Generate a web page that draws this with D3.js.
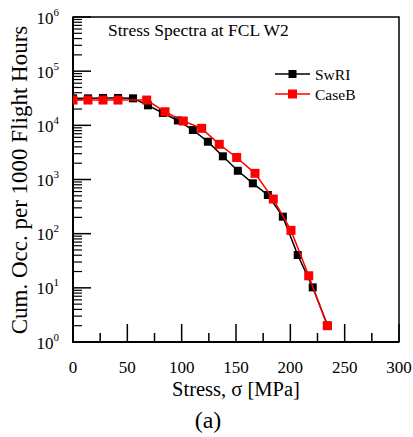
<!DOCTYPE html>
<html>
<head>
<meta charset="utf-8">
<script src="https://cdn.jsdelivr.net/npm/d3@7/dist/d3.min.js"></script>
<style>
  html, body { margin: 0; padding: 0; background: #fff; }
  svg { display: block; }
  text { font-family: "Liberation Serif", "Times New Roman", serif; fill: #000; }
</style>
</head>
<body>
<svg id="chart" width="413" height="437"></svg>
<script>
// Cumulative occurrences per 1000 flight hours vs. stress (MPa)
const swriStress = [0, 13.8, 27.6, 41.4, 55.2, 69.0, 82.7, 96.5, 110.3, 124.1, 137.9, 151.7, 165.5, 179.3, 193.1, 206.8, 220.6, 234.4];
const swriOcc    = [31500, 31500, 32000, 32000, 31500, 23400, 16900, 12300, 8200, 4990, 2680, 1450, 850, 517, 206, 40.4, 10.2, 2.0];

const caseBStress = [0, 13.8, 27.6, 41.4, 67.8, 84.7, 101.5, 118.4, 134.6, 150.6, 167.5, 184.3, 200.6, 216.9, 234.0];
const caseBOcc    = [29300, 29300, 29300, 29300, 29300, 17800, 12000, 8800, 4460, 2550, 1300, 436, 115, 16.7, 2.0];

const xTicks = [0, 50, 100, 150, 200, 250, 300];
const yExponents = [0, 1, 2, 3, 4, 5, 6];

const seriesNames = ["SwRI", "CaseB"];
const seriesColors = ["#000000", "#ff0000"];

const svg = d3.select("#chart");
const x = d3.scaleLinear().domain([0, 300]).range([73, 399]);
const y = d3.scaleLog().domain([1, 1e6]).range([342, 17]);

const plot = svg.append("g");

// frame
plot.append("rect")
  .attr("x", x(0)).attr("y", y(1e6))
  .attr("width", x(300) - x(0)).attr("height", y(1) - y(1e6))
  .attr("fill", "none").attr("stroke", "#000").attr("stroke-width", 1.5);
plot.append("path")
  .attr("d", `M${x(0)},${y(1e6)}V${y(1)}H${x(300)}`)
  .attr("fill", "none").attr("stroke", "#000").attr("stroke-width", 2);

// x ticks (inward)
const xMinor = d3.range(25, 300, 50);
plot.selectAll(".xmaj").data(xTicks).join("line")
  .attr("x1", d => x(d)).attr("x2", d => x(d))
  .attr("y1", y(1)).attr("y2", y(1) - 18)
  .attr("stroke", "#000").attr("stroke-width", 1.5);
plot.selectAll(".xmin").data(xMinor).join("line")
  .attr("x1", d => x(d)).attr("x2", d => x(d))
  .attr("y1", y(1)).attr("y2", y(1) - 9)
  .attr("stroke", "#000").attr("stroke-width", 1.5);

// y ticks (inward)
const yMinor = [];
yExponents.slice(0, -1).forEach(e => { for (let m = 2; m <= 9; m++) yMinor.push(m * Math.pow(10, e)); });
plot.selectAll(".ymaj").data(yExponents).join("line")
  .attr("x1", x(0)).attr("x2", x(0) + 18)
  .attr("y1", d => y(Math.pow(10, d))).attr("y2", d => y(Math.pow(10, d)))
  .attr("stroke", "#000").attr("stroke-width", 1.5);
plot.selectAll(".ymin").data(yMinor).join("line")
  .attr("x1", x(0)).attr("x2", x(0) + 9)
  .attr("y1", d => y(d)).attr("y2", d => y(d))
  .attr("stroke", "#000").attr("stroke-width", 1.2);

// tick labels
svg.selectAll(".xl").data(xTicks).join("text")
  .attr("x", d => x(d)).attr("y", 373)
  .attr("text-anchor", "middle").attr("font-size", 17)
  .text(d => d);

const yl = svg.selectAll(".yl").data(yExponents).join("text")
  .attr("x", 59).attr("y", d => y(Math.pow(10, d)) + 6.5)
  .attr("text-anchor", "end").attr("font-size", 17);
yl.append("tspan").text("10");
yl.append("tspan").attr("font-size", 11).attr("dy", -8).text(d => d);

// axis titles
svg.append("text")
  .attr("x", 236).attr("y", 396)
  .attr("text-anchor", "middle").attr("font-size", 20.5)
  .text("Stress, σ [MPa]");
svg.append("text")
  .attr("transform", "translate(27,180) rotate(-90)")
  .attr("text-anchor", "middle").attr("font-size", 23)
  .text("Cum. Occ. per 1000 Flight Hours");
svg.append("text")
  .attr("x", 208).attr("y", 428)
  .attr("text-anchor", "middle").attr("font-size", 24)
  .text("(a)");

// chart title
svg.append("text")
  .attr("x", 108).attr("y", 36)
  .attr("font-size", 17.5)
  .text("Stress Spectra at FCL W2");

// series
const series = [
  { name: seriesNames[0], color: seriesColors[0], xs: swriStress, ys: swriOcc, size: 8 },
  { name: seriesNames[1], color: seriesColors[1], xs: caseBStress, ys: caseBOcc, size: 9 }
];

svg.append("clipPath").attr("id", "plotclip").append("rect")
  .attr("x", x(0)).attr("y", y(1e6))
  .attr("width", x(300) - x(0)).attr("height", y(1) - y(1e6));

const line = d3.line().x(d => x(d[0])).y(d => y(d[1]));

series.forEach(s => {
  const pts = s.xs.map((v, i) => [v, s.ys[i]]);
  const g = svg.append("g").attr("clip-path", "url(#plotclip)");
  g.append("path").datum(pts)
    .attr("d", line).attr("fill", "none")
    .attr("stroke", s.color).attr("stroke-width", 1.5);
  g.selectAll("rect").data(pts).join("rect")
    .attr("x", d => x(d[0]) - s.size / 2).attr("y", d => y(d[1]) - s.size / 2)
    .attr("width", s.size).attr("height", s.size)
    .attr("fill", s.color);
});

// legend
const legendY = [74, 94];
series.forEach((s, i) => {
  const g = svg.append("g");
  g.append("line")
    .attr("x1", 275).attr("x2", 310)
    .attr("y1", legendY[i]).attr("y2", legendY[i])
    .attr("stroke", s.color).attr("stroke-width", 1.5);
  g.append("rect")
    .attr("x", 292.5 - s.size / 2).attr("y", legendY[i] - s.size / 2)
    .attr("width", s.size).attr("height", s.size)
    .attr("fill", s.color);
  g.append("text")
    .attr("x", 315).attr("y", legendY[i] + 5.5)
    .attr("font-size", 15.5)
    .text(s.name);
});
</script>
</body>
</html>
